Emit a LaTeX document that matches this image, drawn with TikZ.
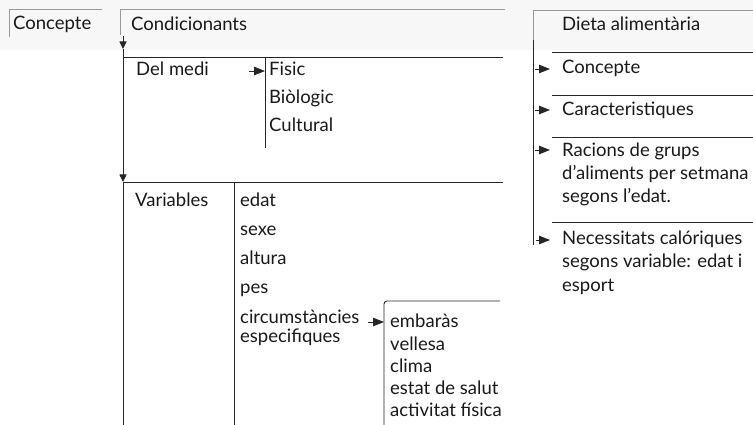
\documentclass[tikz,border=0pt]{standalone}
\usepackage{fontspec}
\setmainfont{Lato}
\usetikzlibrary{arrows.meta}
\tikzset{
  txt/.style={inner sep=0pt, anchor=base west, font=\fontsize{18.5}{19}\selectfont, text=black!90},
  mtxt/.style={inner sep=0pt, anchor=base west, align=left, font=\fontsize{18.5}{23.5}\selectfont, text=black!90},
  rule/.style={draw=black!85, line width=0.9pt},
  faint/.style={draw=black!40, line width=0.8pt},
  rtip/.style={rule, -{Triangle[length=11pt,width=8.5pt]}},
  dtip/.style={rule, -{Triangle[length=7.5pt,width=7pt]}}
}
\begin{document}
\begin{tikzpicture}[x=1pt,y=-1pt]
\useasboundingbox (0,0) rectangle (753,425);
\fill[black!3] (0,0) rectangle (753,50);
% Concepte box
\node[txt] (concept) at (13,30) {Concepte};
\draw[faint] (9,37) -- (9,9) -- (102,9);
% Condicionants
\node[txt] (condic) at (131,31) {Condicionants};
\draw[faint] (120,35) -- (120,9) -- (505,9);
\coordinate (cd1) at (123,36);
\coordinate (cd2) at (123,49);
\draw[dtip] (cd1) -- (cd2);
% Del medi group
\draw[rule] (123,57) -- (503,57);
\coordinate (dm1) at (123,49);
\coordinate (dm2) at (123,182);
\draw[dtip] (dm1) -- (dm2);
\node[txt] (delmedi) at (136,76) {Del medi};
\node[txt] (fisic) at (269,76) {Fisic};
\node[txt] (biologic) at (269,104) {Biòlogic};
\node[txt] (cultural) at (269,132) {Cultural};
\draw[rule] (265,57) -- (265,148);
\coordinate (dma) at (249,71);
\coordinate (dmb) at (265,71);
\draw[rtip] (dma) -- (dmb);
% Variables group
\draw[rule] (123,182) -- (503,182);
\draw[rule] (123,182) -- (123,425);
\draw[rule] (234,182) -- (234,425);
\node[txt] (variables) at (135,207) {Variables};
\node[txt] (edat) at (240,207) {edat};
\node[txt] (sexe) at (240,236) {sexe};
\node[txt] (altura) at (240,264) {altura};
\node[txt] (pes) at (240,293) {pes};
\node[txt] (circ) at (240,323) {circumstàncies};
\node[txt] (espec) at (240,342) {especifiques};
\coordinate (ca) at (368,322);
\coordinate (cb) at (384,322);
\draw[rtip] (ca) -- (cb);
\draw[rule, rounded corners=3pt] (384,425) -- (384,301) -- (500,301);
\node[txt] (embaras) at (390,327) {embaràs};
\node[txt] (vellesa) at (390,350) {vellesa};
\node[txt] (clima) at (390,372) {clima};
\node[txt] (salut) at (390,394) {estat de salut};
\node[txt] (activitat) at (390,416) {activitat física};
% Right panel
\draw[faint] (533,245) -- (533,10) -- (753,10);
\draw[rule] (533,40) -- (533,245);
\node[txt] (dieta) at (562,31) {Dieta alimentària};
\draw[rule] (552,52) -- (753,52);
\draw[rule] (552,95) -- (753,95);
\draw[rule] (552,137) -- (753,137);
\draw[rule] (552,222) -- (753,222);
\node[txt] (rconc) at (562,74) {Concepte};
\node[txt] (rcar) at (562,116) {Caracteristiques};
\node[mtxt] (racions) at (562,203) {Racions de grups\\d'aliments per setmana\\segons l'edat.};
\node[mtxt] (necess) at (562,291) {Necessitats calóriques\\segons variable: edat i\\esport};
\coordinate (ra1) at (535,69);  \coordinate (rb1) at (550,69);
\coordinate (ra2) at (535,110); \coordinate (rb2) at (550,110);
\coordinate (ra3) at (535,150); \coordinate (rb3) at (550,150);
\coordinate (ra4) at (536,240); \coordinate (rb4) at (550,240);
\draw[rtip] (ra1) -- (rb1);
\draw[rtip] (ra2) -- (rb2);
\draw[rtip] (ra3) -- (rb3);
\draw[rtip] (ra4) -- (rb4);
\end{tikzpicture}
\end{document}
